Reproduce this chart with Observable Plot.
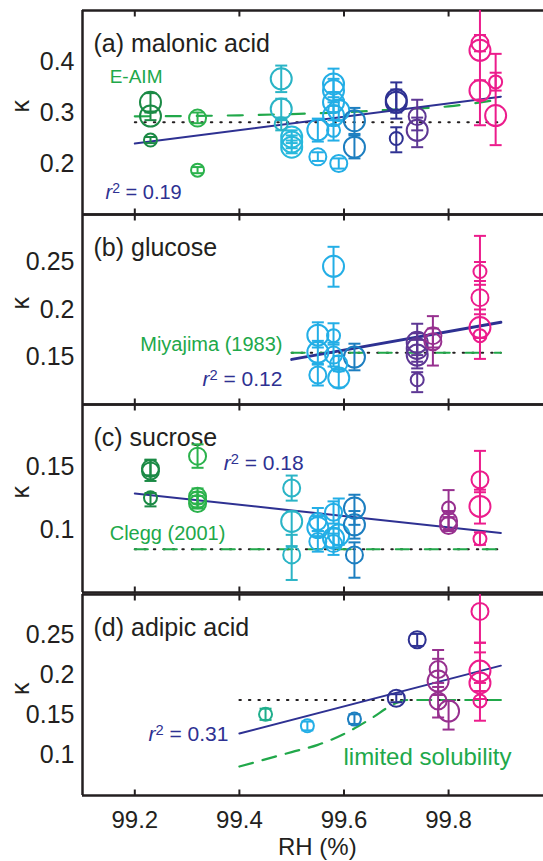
<!DOCTYPE html>
<html><head><meta charset="utf-8">
<script src="https://cdn.jsdelivr.net/npm/d3@7"></script>
<script src="https://cdn.jsdelivr.net/npm/@observablehq/plot@0.6"></script>
<style>
body{margin:0;background:#fff;overflow:hidden;}
#chart{width:543px;height:861px;position:relative;overflow:hidden;}
#chart svg{display:block;overflow:visible;}
</style></head><body><div id="chart"></div>
<script>
// ---------- shared ----------
const xTicks = [99.2, 99.4, 99.6, 99.8];
const xTickLabels = ["99.2", "99.4", "99.6", "99.8"];
const groupKeys   = ["dg","g","tg","tc","c","lb","mb","ib","pu","mp","pk"];
const groupColors = ["#1b8a45","#2bb24c","#1fae8c","#2ab4c6","#27b8dc","#23aee6","#1c7ec0","#2e3192","#5d3794","#97308f","#ec1c8c"];
const sizeKeys  = ["s","m","l"];
const sizeRadii = [6.5, 8.5, 10.5];

// ---------- panel (a) malonic acid ----------
const aRH  = [99.23,99.23,99.23,99.32,99.32,99.48,99.48,99.48,99.50,99.50,99.50,99.55,99.55,99.58,99.58,99.58,99.58,99.58,99.59,99.59,99.62,99.62,99.70,99.70,99.70,99.74,99.74,99.86,99.86,99.86,99.89,99.89];
const aK   = [0.320,0.293,0.246,0.289,0.187,0.366,0.307,0.278,0.252,0.242,0.232,0.266,0.213,0.356,0.343,0.320,0.294,0.265,0.304,0.200,0.284,0.232,0.325,0.320,0.249,0.292,0.265,0.436,0.422,0.343,0.360,0.294];
const aLo  = [0.300,0.285,0.240,0.279,0.181,0.340,0.285,0.265,0.240,0.230,0.220,0.243,0.205,0.330,0.320,0.300,0.275,0.245,0.285,0.190,0.258,0.210,0.288,0.300,0.222,0.265,0.232,0.420,0.275,0.325,0.343,0.236];
const aHi  = [0.338,0.302,0.252,0.300,0.193,0.392,0.327,0.290,0.265,0.255,0.245,0.288,0.222,0.386,0.366,0.340,0.313,0.285,0.325,0.210,0.309,0.255,0.359,0.345,0.271,0.325,0.290,0.452,0.500,0.363,0.378,0.415];
const aSize= ["l","l","s","m","s","l","l","s","l","l","l","l","m","l","l","l","l","s","l","m","l","l","l","l","s","m","l","m","l","l","s","l"];
const aGrp = ["dg","dg","dg","g","g","tc","tc","tc","c","c","c","lb","lb","lb","lb","lb","lb","lb","lb","lb","mb","mb","ib","ib","ib","pu","pu","pk","pk","pk","pk","pk"];
const aEaimRH = [99.2, 99.4, 99.5, 99.6, 99.7, 99.8, 99.9];
const aEaimK  = [0.2925, 0.2945, 0.297, 0.3005, 0.306, 0.312, 0.326];
const aDotRH = [99.2, 99.9], aDotK = [0.281, 0.281];
const aFitRH = [99.2, 99.9], aFitK = [0.239, 0.331];
const aYTicks = [0.2, 0.3, 0.4];

// ---------- panel (b) glucose ----------
const bRH  = [99.55,99.55,99.55,99.58,99.58,99.58,99.59,99.59,99.62,99.74,99.74,99.74,99.74,99.77,99.77,99.86,99.86,99.86,99.86];
const bK   = [0.173,0.155,0.131,0.2455,0.1725,0.152,0.143,0.128,0.150,0.1655,0.159,0.152,0.126,0.1725,0.166,0.240,0.2125,0.181,0.1725];
const bLo  = [0.160,0.143,0.120,0.224,0.163,0.140,0.135,0.118,0.136,0.152,0.145,0.138,0.113,0.160,0.141,0.230,0.200,0.170,0.148];
const bHi  = [0.1865,0.167,0.142,0.266,0.1855,0.165,0.151,0.137,0.164,0.185,0.175,0.168,0.134,0.193,0.180,0.250,0.226,0.195,0.2775];
const bSize= ["l","l","m","l","s","m","m","l","l","l","l","l","s","m","m","s","m","l","s"];
const bGrp = ["lb","lb","lb","lb","lb","lb","lb","lb","mb","pu","pu","pu","pu","mp","mp","pk","pk","pk","pk"];
const bRefRH = [99.5, 99.9], bRefK = [0.1545, 0.1545];
const bFitRH = [99.5, 99.9], bFitK = [0.1475, 0.1865];
const bYTicks = [0.15, 0.2, 0.25];

// ---------- panel (c) sucrose ----------
const cRH  = [99.23,99.23,99.23,99.32,99.32,99.32,99.32,99.50,99.50,99.50,99.55,99.55,99.55,99.58,99.58,99.58,99.59,99.62,99.62,99.62,99.80,99.80,99.80,99.86,99.86,99.86];
const cK   = [0.149,0.147,0.1255,0.1588,0.1267,0.124,0.121,0.1334,0.1067,0.080,0.1067,0.1018,0.0906,0.114,0.0933,0.089,0.096,0.1174,0.104,0.080,0.1174,0.107,0.1035,0.140,0.1187,0.0928];
const cLo  = [0.1435,0.139,0.1187,0.1495,0.121,0.118,0.117,0.1233,0.087,0.060,0.099,0.095,0.0826,0.105,0.086,0.080,0.088,0.104,0.093,0.0618,0.110,0.100,0.099,0.130,0.105,0.088];
const cHi  = [0.1555,0.156,0.1294,0.1682,0.133,0.130,0.127,0.1433,0.1147,0.096,0.1174,0.111,0.099,0.1227,0.101,0.097,0.125,0.128,0.115,0.090,0.1317,0.115,0.110,0.163,0.132,0.098];
const cSize= ["m","m","s","m","m","m","m","m","l","m","m","l","m","m","l","m","l","l","l","m","s","m","m","m","l","s"];
const cGrp = ["dg","dg","dg","g","g","g","g","tc","tc","tc","lb","lb","lb","lb","lb","lb","lb","mb","mb","mb","mp","mp","mp","pk","pk","pk"];
const cRefRH = [99.2, 99.9], cRefK = [0.0845, 0.0845];
const cFitRH = [99.2, 99.9], cFitK = [0.129, 0.0975];
const cYTicks = [0.1, 0.15];

// ---------- panel (d) adipic acid ----------
const dRH  = [99.45,99.53,99.62,99.70,99.74,99.78,99.78,99.78,99.80,99.86,99.86,99.86,99.86];
const dK   = [0.151,0.1367,0.145,0.171,0.2438,0.2067,0.1923,0.1676,0.155,0.279,0.2047,0.190,0.1676];
const dLo  = [0.144,0.131,0.139,0.166,0.236,0.190,0.175,0.147,0.132,0.240,0.190,0.170,0.143];
const dHi  = [0.158,0.142,0.151,0.176,0.251,0.220,0.231,0.185,0.1676,0.300,0.228,0.240,0.180];
const dSize= ["s","s","s","m","m","m","l","m","l","m","l","l","s"];
const dGrp = ["tg","lb","mb","ib","ib","mp","mp","mp","mp","pk","pk","pk","pk"];
const dSolRH = [99.4, 99.5, 99.55, 99.6, 99.65, 99.7, 99.72, 99.9];
const dSolK  = [0.086, 0.104, 0.113, 0.1265, 0.145, 0.165, 0.1688, 0.1688];
const dDotRH = [99.4, 99.9], dDotK = [0.1688, 0.1688];
const dFitRH = [99.4, 99.9], dFitK = [0.127, 0.2115];
const dYTicks = [0.1, 0.15, 0.2, 0.25];

// ---------- helpers ----------
const FONT = "'Liberation Sans', Arial, Helvetica, sans-serif";
const INK = "#231f20";
const FIT = "#2e3192";
const REF = "#21a84a";
const rows = (rh, k, lo, hi, size, grp) => rh.map((v, i) => ({rh: v, k: k[i], lo: lo[i], hi: hi[i], size: size[i], grp: grp[i]}));
const pts = (xs, ys) => xs.map((x, i) => ({rh: x, k: ys[i]}));
const radius = s => sizeRadii[sizeKeys.indexOf(s)];
const cap = {draw(c){ c.moveTo(-6, 0); c.lineTo(6, 0); }};
const tickDown = {draw(c){ c.moveTo(0, 0); c.lineTo(0, 6); }};
const tickUp = {draw(c){ c.moveTo(0, 0); c.lineTo(0, -6); }};
const X0 = 99.1, X1 = 99.9815;

function panel(o) {
  const [y0, y1] = o.yDomain;
  const data = o.data;
  const marks = [
    Plot.ruleY([y1], {stroke: INK, strokeWidth: 2.5}),
    Plot.ruleY([y0], {stroke: INK, strokeWidth: 2.5}),
    Plot.ruleX([X0], {y1: y0, y2: y1, stroke: INK, strokeWidth: 2.5}),
    Plot.dot(xTicks, {x: d => d, y: () => y1, symbol: tickDown, stroke: INK, strokeWidth: 2, fill: "none"}),
    Plot.dot(xTicks, {x: d => d, y: () => y0, symbol: tickUp, stroke: INK, strokeWidth: 2, fill: "none"}),
    Plot.axisY(o.yTicks, {tickSize: 0, tickPadding: 8, fontSize: 25, fill: INK, tickFormat: d => String(d), label: null}),
    Plot.text(["\u03BA"], {frameAnchor: "left", dx: -62, rotate: -90, fontSize: 25, fill: INK}),
    Plot.text([o.title], {frameAnchor: "top-left", dx: 11, dy: 24, fontSize: 25, fill: INK, textAnchor: "start"}),
    ...o.lines,
    Plot.ruleX(data, {x: "rh", y1: "lo", y2: "hi", stroke: "grp", strokeWidth: 2, clip: true}),
    Plot.dot(data.filter(d => d.lo > y0), {x: "rh", y: "lo", symbol: cap, stroke: "grp", strokeWidth: 2, fill: "none"}),
    Plot.dot(data.filter(d => d.hi < y1), {x: "rh", y: "hi", symbol: cap, stroke: "grp", strokeWidth: 2, fill: "none"}),
    Plot.dot(data, {x: "rh", y: "k", r: d => radius(d.size), stroke: "grp", strokeWidth: 2, fill: "none"}),
    ...o.texts
  ];
  if (o.xAxis) {
    marks.push(Plot.axisX(xTicks, {tickSize: 0, tickPadding: 15, fontSize: 24, fill: INK, tickFormat: (d, i) => xTickLabels[i], label: null}));
    marks.push(Plot.text(["RH (%)"], {x: () => 99.549, y: () => y0, dy: 52, fontSize: 24, fill: INK}));
  }
  const svg = Plot.plot({
    width: 543, height: o.height,
    marginLeft: 82, marginRight: 0, marginTop: o.marginTop, marginBottom: o.marginBottom,
    x: {domain: [X0, X1], axis: o.xAxis ? undefined : null},
    y: {domain: [y0, y1]},
    r: {type: "identity"},
    color: {domain: groupKeys, range: groupColors},
    style: {fontFamily: FONT, overflow: "visible", background: "transparent"},
    marks
  });
  // italic r with superscript 2 for r^2 annotations
  d3.select(svg).selectAll("text").each(function() {
    const t = this.textContent;
    if (this.childElementCount === 0 && /^r2 = /.test(t)) {
      const rest = t.slice(2);
      const s = d3.select(this).text("");
      s.append("tspan").attr("font-style", "italic").text("r");
      s.append("tspan").attr("dy", "-0.45em").attr("font-size", "0.7em").text("2");
      s.append("tspan").attr("dy", "0.32em").text(rest);
    }
  });
  return svg;
}

const note = (x, y, text, fill, anchor = "start", fs = 20) =>
  Plot.text([text], {x: () => x, y: () => y, text: d => d, fill, fontSize: fs, textAnchor: anchor});

const root = document.getElementById("chart");

root.append(panel({
  title: "(a) malonic acid", yDomain: [0.1, 0.5], yTicks: aYTicks, height: 214, marginTop: 10, marginBottom: 0,
  data: rows(aRH, aK, aLo, aHi, aSize, aGrp),
  lines: [
    Plot.line(pts(aDotRH, aDotK), {x: "rh", y: "k", stroke: INK, strokeWidth: 2, strokeDasharray: "1.5,8"}),
    Plot.line(pts(aEaimRH, aEaimK), {x: "rh", y: "k", stroke: REF, strokeWidth: 2.2, strokeDasharray: "15,16", curve: "monotone-x"}),
    Plot.line(pts(aFitRH, aFitK), {x: "rh", y: "k", stroke: FIT, strokeWidth: 2})
  ],
  texts: [note(99.152, 0.3706, "E-AIM", REF, "start", 19), note(99.144, 0.143, "r2 = 0.19", FIT)]
}));

root.append(panel({
  title: "(b) glucose", yDomain: [0.1, 0.3], yTicks: bYTicks, height: 190, marginTop: 0, marginBottom: 0,
  data: rows(bRH, bK, bLo, bHi, bSize, bGrp),
  lines: [
    Plot.line(pts(bRefRH, bRefK), {x: "rh", y: "k", stroke: INK, strokeWidth: 2, strokeDasharray: "1.5,8"}),
    Plot.line(pts(bRefRH, bRefK), {x: "rh", y: "k", stroke: REF, strokeWidth: 2.2, strokeDasharray: "13,16"}),
    Plot.line(pts(bFitRH, bFitK), {x: "rh", y: "k", stroke: FIT, strokeWidth: 3})
  ],
  texts: [note(99.4824, 0.1632, "Miyajima (1983)", REF, "end"), note(99.4824, 0.1263, "r2 = 0.12", FIT, "end", 21)]
}));

root.append(panel({
  title: "(c) sucrose", yDomain: [0.05, 0.2], yTicks: cYTicks, height: 188, marginTop: 0, marginBottom: 0,
  data: rows(cRH, cK, cLo, cHi, cSize, cGrp),
  lines: [
    Plot.line(pts(cRefRH, cRefK), {x: "rh", y: "k", stroke: INK, strokeWidth: 2, strokeDasharray: "1.5,8"}),
    Plot.line(pts(cRefRH, cRefK), {x: "rh", y: "k", stroke: REF, strokeWidth: 2.2, strokeDasharray: "13,16"}),
    Plot.line(pts(cFitRH, cFitK), {x: "rh", y: "k", stroke: FIT, strokeWidth: 2})
  ],
  texts: [note(99.152, 0.097, "Clegg (2001)", REF), note(99.37, 0.153, "r2 = 0.18", FIT, "start", 21)]
}));

root.append(panel({
  title: "(d) adipic acid", yDomain: [0.05, 0.3], yTicks: dYTicks, height: 269, marginTop: 2, marginBottom: 66,
  data: rows(dRH, dK, dLo, dHi, dSize, dGrp), xAxis: true,
  lines: [
    Plot.line(pts(dDotRH, dDotK), {x: "rh", y: "k", stroke: INK, strokeWidth: 2, strokeDasharray: "1.5,8"}),
    Plot.line(pts(dSolRH, dSolK), {x: "rh", y: "k", stroke: REF, strokeWidth: 2.2, strokeDasharray: "14,10", curve: "monotone-x"}),
    Plot.line(pts(dFitRH, dFitK), {x: "rh", y: "k", stroke: FIT, strokeWidth: 2})
  ],
  texts: [note(99.379, 0.1259, "r2 = 0.31", FIT, "end", 21), note(99.599, 0.0973, "limited solubility", REF, "start", 24)]
}));
</script></body></html>
